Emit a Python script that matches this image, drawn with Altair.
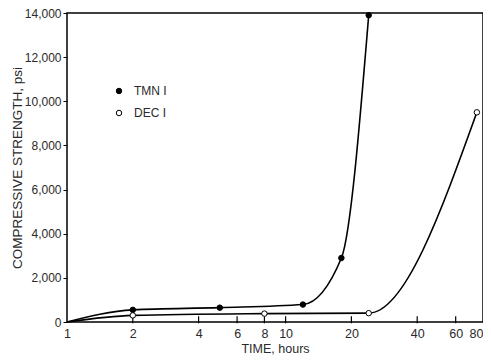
import altair as alt
import pandas as pd

# Data
tmn_time = [1, 2, 5, 12, 18, 24]
tmn_strength = [0, 550, 650, 790, 2900, 13900]
dec_time = [1, 2, 8, 24, 75]
dec_strength = [0, 300, 380, 400, 9500]
series_names = ["TMN I", "DEC I"]
x_tick_values = [1, 2, 4, 6, 8, 10, 20, 40, 60, 80]
x_inner_ticks = [2, 4, 6, 8, 10, 20, 40, 60]
y_tick_values = [0, 2000, 4000, 6000, 8000, 10000, 12000, 14000]

FONT = "Liberation Sans, Arial, sans-serif"
TXT = "#2a2a2a"

rows = []
for i, (t, s) in enumerate(zip(tmn_time, tmn_strength)):
    rows.append({"time": t, "strength": s, "series": "TMN I", "marker": i > 0})
for i, (t, s) in enumerate(zip(dec_time, dec_strength)):
    rows.append({"time": t, "strength": s, "series": "DEC I", "marker": i > 0})
df = pd.DataFrame(rows)
ticks_df = pd.DataFrame({"time": x_inner_ticks})

xscale = alt.Scale(type="log", domain=[1, 80], nice=False)
yscale = alt.Scale(domain=[0, 14000], nice=False)

x_enc = alt.X("time:Q", scale=xscale,
              axis=alt.Axis(values=x_tick_values, title="TIME, hours", ticks=False,
                            domain=False, grid=False, labelPadding=5, titlePadding=3,
                            labelFlush=False, labelOverlap=False, format="d",
                            labelAlign=alt.ExprRef(expr="datum.value == 80 ? 'right' : 'center'"),
                            labelFontSize=12.5, titleFontSize=12.5))
y_enc = alt.Y("strength:Q", scale=yscale,
              axis=alt.Axis(values=y_tick_values, format=",d",
                            title="COMPRESSIVE STRENGTH, psi", tickSize=4,
                            domain=False, grid=False, labelPadding=2, titlePadding=0,
                            labelFontSize=12, titleFontSize=13.5))

lines = alt.Chart(df).mark_line(interpolate="monotone", color="black", strokeWidth=1.6).encode(
    x=x_enc, y=y_enc, detail="series:N"
)

points = alt.Chart(df).transform_filter("datum.marker").mark_circle(
    size=30, stroke="black", strokeWidth=1, opacity=1
).encode(
    x=alt.X("time:Q", scale=xscale),
    y=alt.Y("strength:Q", scale=yscale),
    fill=alt.Fill("series:N", scale=alt.Scale(domain=series_names, range=["black", "white"]),
                  legend=alt.Legend(title=None, orient="none", legendX=46, legendY=72,
                                    symbolType="circle", symbolSize=30,
                                    symbolStrokeColor="black", symbolStrokeWidth=1,
                                    labelFontSize=12, labelFont=FONT, labelColor=TXT,
                                    rowPadding=10, labelOffset=9)),
)

tick_rules = alt.Chart(ticks_df).mark_rule(color="black", strokeWidth=1.2).encode(
    x=alt.X("time:Q", scale=xscale),
    y=alt.datum(-60),
    y2=alt.datum(260),
)

chart = alt.layer(lines, tick_rules, points).properties(
    width=416, height=309,
    padding={"left": 59, "top": 5, "right": 0, "bottom": 34},
    autosize=alt.AutoSizeParams(type="none"),
    background="white",
).configure_view(
    stroke="black", strokeWidth=1.5
).configure_axis(
    labelFont=FONT, titleFont=FONT,
    labelColor=TXT, titleColor=TXT, titleFontWeight="normal", tickColor="black"
)

chart.save("out.html", embed_options={"renderer": "svg", "actions": False})
